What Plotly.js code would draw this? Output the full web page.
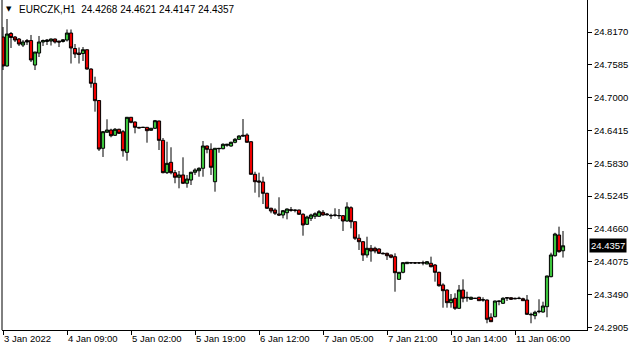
<!DOCTYPE html>
<html>
<head>
<meta charset="utf-8">
<script src="https://cdn.plot.ly/plotly-3.0.1.min.js"></script>
<style>
html,body{margin:0;padding:0;background:#fff;}
#chart{width:635px;height:352px;}
</style>
</head>
<body>
<div id="chart"></div>
<script>
var symbol = "EURCZK,H1";

var openP = [
24.8081, 24.7564, 24.8143, 24.8081, 24.8045, 24.7938, 24.8018, 24.8018, 24.7581, 24.7795,
24.7992, 24.8001, 24.8009, 24.8045, 24.8009, 24.8001, 24.8027, 24.8152, 24.7876, 24.7795,
24.7786, 24.7854, 24.7510, 24.7255, 24.6948, 24.6096, 24.6381, 24.6422, 24.6328, 24.6435,
24.6392, 24.6024, 24.6649, 24.6565, 24.6470, 24.6467, 24.6470, 24.6417, 24.6453, 24.6583,
24.6238, 24.5661, 24.5846, 24.5661, 24.5579, 24.5620, 24.5472, 24.5530, 24.5668, 24.5696,
24.5739, 24.6137, 24.6078, 24.5500, 24.6096, 24.6089, 24.6149, 24.6137, 24.6203, 24.6256,
24.6328, 24.6333, 24.6213, 24.5632, 24.5513, 24.5495, 24.5293, 24.5026, 24.4995, 24.4924,
24.4906, 24.4947, 24.5001, 24.4995, 24.4995, 24.4919, 24.4740, 24.4847, 24.4883, 24.4883,
24.4954, 24.4924, 24.4901, 24.4906, 24.4897, 24.4894, 24.4799, 24.5036, 24.4787, 24.4491,
24.4430, 24.4193, 24.4312, 24.4312, 24.4300, 24.4223, 24.4223, 24.4193, 24.4163, 24.3759,
24.3884, 24.4038, 24.4056, 24.4056, 24.4054, 24.4056, 24.4032, 24.4045, 24.4014, 24.3884,
24.3658, 24.3568, 24.3342, 24.3421, 24.3242, 24.3568, 24.3438, 24.3403, 24.3421, 24.3438,
24.3396, 24.3390, 24.3082, 24.3092, 24.3372, 24.3331, 24.3431, 24.3431, 24.3421, 24.3421,
24.3413, 24.3390, 24.3135, 24.3110, 24.3181, 24.3176, 24.3271, 24.3806, 24.4180, 24.4549,
24.4268];

var highP = [
24.8259, 24.8402, 24.8170, 24.8099, 24.8063, 24.8027, 24.8045, 24.8117, 24.7813, 24.8099,
24.8036, 24.8045, 24.8054, 24.8054, 24.8009, 24.8045, 24.8215, 24.8215, 24.7956, 24.7894,
24.7902, 24.7858, 24.7523, 24.7373, 24.6957, 24.6404, 24.6613, 24.6445, 24.6458, 24.6445,
24.6422, 24.6654, 24.6654, 24.6574, 24.6476, 24.6476, 24.6476, 24.6458, 24.6601, 24.6588,
24.6279, 24.6213, 24.6114, 24.5709, 24.5691, 24.5935, 24.5620, 24.5678, 24.5739, 24.5757,
24.6226, 24.6146, 24.6185, 24.6101, 24.6101, 24.6185, 24.6167, 24.6213, 24.6279, 24.6328,
24.6618, 24.6363, 24.6226, 24.5678, 24.5661, 24.5589, 24.5304, 24.5036, 24.5026, 24.5222,
24.4995, 24.5022, 24.5049, 24.5001, 24.5001, 24.4937, 24.4894, 24.4929, 24.4954, 24.4995,
24.4995, 24.4942, 24.4929, 24.5026, 24.5013, 24.4906, 24.5133, 24.5061, 24.4787, 24.4562,
24.4442, 24.4519, 24.4371, 24.4341, 24.4312, 24.4241, 24.4234, 24.4198, 24.4223, 24.3890,
24.4068, 24.4068, 24.4063, 24.4063, 24.4063, 24.4091, 24.4086, 24.4163, 24.4032, 24.3895,
24.3688, 24.3581, 24.3497, 24.3510, 24.3658, 24.3759, 24.3538, 24.3449, 24.3426, 24.3449,
24.3438, 24.3399, 24.3153, 24.3378, 24.3378, 24.3438, 24.3438, 24.3438, 24.3431, 24.3449,
24.3431, 24.3479, 24.3164, 24.3199, 24.3403, 24.3360, 24.3824, 24.4234, 24.4590, 24.4698,
24.4621];

var lowP = [
24.7492, 24.7555, 24.7885, 24.7992, 24.7920, 24.7902, 24.7938, 24.7635, 24.7492, 24.7724,
24.7920, 24.7938, 24.7929, 24.7965, 24.7902, 24.7983, 24.8001, 24.7608, 24.7706, 24.7608,
24.7653, 24.7498, 24.7177, 24.6749, 24.6048, 24.5941, 24.6378, 24.6292, 24.6315, 24.6351,
24.5946, 24.5875, 24.6542, 24.6363, 24.6449, 24.6458, 24.6196, 24.6410, 24.6440, 24.6065,
24.5650, 24.5637, 24.5632, 24.5472, 24.5382, 24.5459, 24.5393, 24.5441, 24.5620, 24.5589,
24.5589, 24.6007, 24.5620, 24.5322, 24.6017, 24.6078, 24.6124, 24.6124, 24.6185, 24.6244,
24.6310, 24.6199, 24.5629, 24.5304, 24.5222, 24.5102, 24.5013, 24.4937, 24.4906, 24.4888,
24.4847, 24.4829, 24.4965, 24.4954, 24.4906, 24.4537, 24.4728, 24.4799, 24.4835, 24.4876,
24.4894, 24.4894, 24.4835, 24.4876, 24.4835, 24.4621, 24.4787, 24.4669, 24.4460, 24.4282,
24.4086, 24.4145, 24.4073, 24.4223, 24.4211, 24.4205, 24.4104, 24.4134, 24.3538, 24.3747,
24.3866, 24.4032, 24.4038, 24.4032, 24.4032, 24.4009, 24.4032, 24.3973, 24.3717, 24.3627,
24.3253, 24.3253, 24.3253, 24.3212, 24.3230, 24.3349, 24.3360, 24.3390, 24.3408, 24.3372,
24.3360, 24.2975, 24.2998, 24.3082, 24.3296, 24.3319, 24.3372, 24.3390, 24.3403, 24.3403,
24.3378, 24.3123, 24.2975, 24.3046, 24.3153, 24.3164, 24.3082, 24.3795, 24.4163, 24.4234,
24.4147];

var closeP = [
24.7564, 24.8134, 24.8072, 24.8027, 24.7956, 24.7992, 24.7992, 24.7671, 24.7813, 24.7992,
24.8018, 24.8027, 24.8045, 24.7992, 24.7992, 24.8031, 24.8152, 24.7885, 24.7778, 24.7769,
24.7854, 24.7510, 24.7255, 24.6945, 24.6083, 24.6392, 24.6422, 24.6320, 24.6435, 24.6363,
24.6053, 24.6649, 24.6559, 24.6470, 24.6461, 24.6470, 24.6410, 24.6453, 24.6588, 24.6238,
24.5661, 24.5828, 24.5661, 24.5579, 24.5620, 24.5472, 24.5548, 24.5668, 24.5709, 24.5739,
24.6137, 24.6078, 24.5757, 24.6096, 24.6090, 24.6167, 24.6167, 24.6203, 24.6256, 24.6315,
24.6315, 24.6203, 24.5632, 24.5500, 24.5495, 24.5293, 24.5026, 24.4978, 24.4937, 24.4906,
24.4983, 24.5013, 24.4990, 24.4990, 24.4919, 24.4728, 24.4870, 24.4906, 24.4929, 24.4965,
24.4906, 24.4912, 24.4894, 24.4901, 24.4894, 24.4799, 24.5049, 24.4787, 24.4491, 24.4430,
24.4193, 24.4312, 24.4264, 24.4264, 24.4223, 24.4216, 24.4180, 24.4152, 24.3877, 24.3884,
24.4056, 24.4063, 24.4052, 24.4050, 24.4052, 24.4050, 24.4073, 24.3984, 24.3884, 24.3645,
24.3556, 24.3342, 24.3403, 24.3242, 24.3568, 24.3421, 24.3431, 24.3438, 24.3419, 24.3378,
24.3390, 24.3046, 24.3003, 24.3372, 24.3367, 24.3421, 24.3426, 24.3403, 24.3413, 24.3419,
24.3378, 24.3135, 24.3128, 24.3171, 24.3189, 24.3283, 24.3818, 24.4193, 24.4567, 24.4252,
24.4357];

var timeTickIdx = [0, 16, 32, 48, 64, 80, 96, 112, 128];
var timeTickText = ["3 Jan 2022", "4 Jan 09:00", "5 Jan 02:00", "5 Jan 19:00", "6 Jan 12:00",
                    "7 Jan 05:00", "7 Jan 21:00", "10 Jan 14:00", "11 Jan 06:00"];
var priceTicks = [24.2905, 24.3490, 24.4075, 24.4660, 24.5245, 24.5830, 24.6415, 24.7000, 24.7585, 24.8170];

var barIdx = [];
for (var i = 0; i < closeP.length; i++) barIdx.push(i);

var FONT = "Liberation Sans, Arial, sans-serif";
var last = closeP.length - 1;
var fmt = function (v) { return v.toFixed(4); };

var trace = {
  type: "candlestick",
  x: barIdx, open: openP, high: highP, low: lowP, close: closeP,
  increasing: {line: {color: "#000000", width: 1}, fillcolor: "#3cc43c"},
  decreasing: {line: {color: "#000000", width: 1}, fillcolor: "#ee0000"},
  whiskerwidth: 0,
  hoverinfo: "skip",
  showlegend: false
};

var layout = {
  width: 635, height: 352,
  margin: {l: 2, r: 48, t: 0, b: 22, pad: 0},
  paper_bgcolor: "#ffffff", plot_bgcolor: "#ffffff",
  font: {family: FONT, size: 9.5, color: "#000000"},
  showlegend: false,
  boxgap: 0.2, boxgroupgap: 0,
  xaxis: {
    range: [-0.25, 146],
    rangeslider: {visible: false},
    showgrid: false, zeroline: false,
    showline: true, linecolor: "#000000", linewidth: 1,
    ticks: "outside", ticklen: 4, tickcolor: "#000000", tickwidth: 1,
    tickmode: "array", tickvals: timeTickIdx, ticktext: timeTickText,
    ticklabelposition: "outside right",
    tickfont: {family: FONT, size: 9.5, color: "#000000"},
    fixedrange: true
  },
  yaxis: {
    side: "right",
    range: [24.2855, 24.8741],
    showgrid: false, zeroline: false,
    showline: true, linecolor: "#000000", linewidth: 1,
    ticks: "outside", ticklen: 4, tickcolor: "#000000", tickwidth: 1,
    tickmode: "array", tickvals: priceTicks, tickformat: ".4f",
    tickfont: {family: FONT, size: 9.5, color: "#000000"},
    fixedrange: true
  },
  shapes: [
    {type: "line", xref: "paper", yref: "paper", x0: 0, x1: 0, y0: 0, y1: 1,
     line: {color: "#000000", width: 1}}
  ],
  annotations: [
    {xref: "paper", yref: "paper", x: 0, y: 1, xanchor: "left", yanchor: "top",
     xshift: 2, yshift: -3, showarrow: false,
     text: "\u25BC", font: {family: "DejaVu Sans", size: 7, color: "#000000"}},
    {xref: "paper", yref: "paper", x: 0, y: 1, xanchor: "left", yanchor: "top",
     xshift: 15, yshift: -2, showarrow: false,
     text: symbol + "\u00a0\u00a0" + fmt(openP[last]) + "\u00a0" + fmt(highP[last]) + "\u00a0" + fmt(lowP[last]) + "\u00a0" + fmt(closeP[last]),
     font: {family: FONT, size: 10, color: "#000000"}},
    {xref: "paper", yref: "y", x: 1, y: closeP[last], xanchor: "left", yanchor: "middle",
     xshift: 2, showarrow: false, text: fmt(closeP[last]),
     bgcolor: "#000000", borderpad: 1,
     font: {family: FONT, size: 9.5, color: "#ffffff"}}
  ]
};

Plotly.newPlot("chart", [trace], layout, {staticPlot: true, displayModeBar: false});
</script>
</body>
</html>
